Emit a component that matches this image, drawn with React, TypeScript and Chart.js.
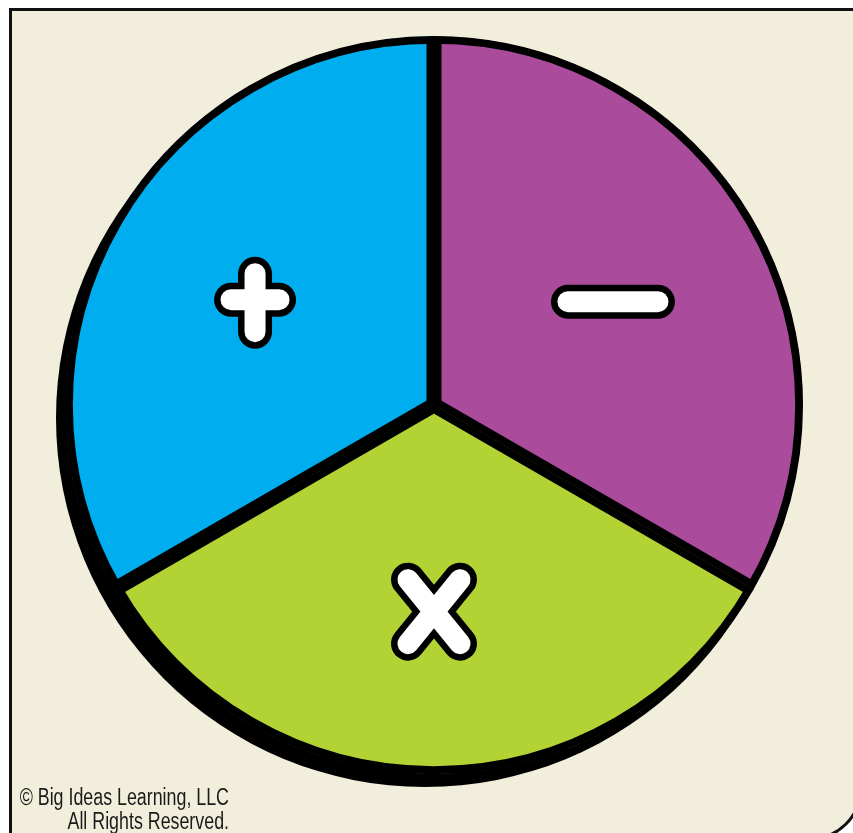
import React, { useEffect, useRef } from 'react';
import { Chart, registerables } from 'chart.js';

Chart.register(...registerables);

// Spinner sections (clockwise from the top)
const labels = ['−', '×', '+'];
const values = [1, 1, 1];
const sliceColors = ['#AB4B9B', '#B3D335', '#00ADEE'];
const footnoteLines = ['© Big Ideas Learning, LLC', 'All Rights Reserved.'];

// symbol stroke segments (relative to the symbol centre)
const shapes: Record<string, number[][]> = {
  '+': [
    [0, -28, 0, 30],
    [-24, -2, 24, -2],
  ],
  '−': [[-45, 0, 45, 0]],
  '×': [
    [-26, -32, 26, 32],
    [26, -32, -26, 32],
  ],
};

export default function App() {
  const ref = useRef<HTMLCanvasElement>(null);

  useEffect(() => {
    if (!ref.current) return;

    const shadowPlugin = {
      id: 'spinShadow',
      beforeDatasetsDraw(chart: any) {
        const arc = chart.getDatasetMeta(0).data[0];
        if (!arc) return;
        const { x, y, outerRadius } = arc.getProps(['x', 'y', 'outerRadius'], true);
        const ctx = chart.ctx;
        ctx.save();
        ctx.fillStyle = '#000';
        ctx.beginPath();
        ctx.arc(x - 9, y + 13, outerRadius, 0, Math.PI * 2);
        ctx.fill();
        ctx.restore();
      },
    };

    const symbolPlugin = {
      id: 'spinSymbols',
      afterDatasetsDraw(chart: any) {
        const meta = chart.getDatasetMeta(0);
        const ctx = chart.ctx;
        meta.data.forEach((el: any, i: number) => {
          const { x, y, startAngle, endAngle, outerRadius } = el.getProps(
            ['x', 'y', 'startAngle', 'endAngle', 'outerRadius'],
            true
          );
          const a = (startAngle + endAngle) / 2;
          const r = outerRadius * 0.56;
          const px = x + Math.cos(a) * r;
          const py = y + Math.sin(a) * r;
          const segs = shapes[labels[i]] || [];
          ctx.save();
          ctx.lineCap = 'round';
          ctx.lineJoin = 'round';
          const passes: [number, string][] = [
            [34, '#000000'],
            [21, '#ffffff'],
          ];
          for (const [w, c] of passes) {
            ctx.strokeStyle = c;
            ctx.lineWidth = w;
            ctx.beginPath();
            segs.forEach(([x1, y1, x2, y2]) => {
              ctx.moveTo(px + x1, py + y1);
              ctx.lineTo(px + x2, py + y2);
            });
            ctx.stroke();
          }
          ctx.restore();
        });
      },
    };

    const chart = new Chart(ref.current, {
      type: 'pie',
      data: {
        labels,
        datasets: [
          {
            data: values,
            backgroundColor: sliceColors,
            borderColor: '#000000',
            borderWidth: 7.5,
            borderAlign: 'inner',
          },
        ],
      },
      options: {
        responsive: false,
        animation: false,
        events: [],
        radius: 369,
        layout: { padding: { left: 15, right: 0, top: 0, bottom: 23 } },
        plugins: {
          legend: { display: false },
          tooltip: { enabled: false },
        },
      } as any,
      plugins: [shadowPlugin, symbolPlugin],
    });

    return () => chart.destroy();
  }, []);

  return (
    <div
      style={{
        position: 'fixed',
        left: 0,
        top: 0,
        width: 853,
        height: 833,
        overflow: 'hidden',
        background: '#ffffff',
      }}
    >
      <div
        style={{
          position: 'absolute',
          left: 9,
          top: 8,
          width: 853,
          height: 832,
          boxSizing: 'border-box',
          border: '3px solid #111111',
          borderRadius: '0 0 51px 0',
          background: '#F2EEDC',
        }}
      />
      <canvas
        ref={ref}
        width={853}
        height={833}
        style={{ position: 'absolute', left: 0, top: 0, width: 853, height: 833 }}
      />
      <div
        style={{
          position: 'absolute',
          left: -200,
          top: 785,
          width: 429,
          textAlign: 'right',
          fontFamily: '"Liberation Sans", Arial, sans-serif',
          fontSize: 23,
          lineHeight: '24px',
          color: '#1a1a1a',
          transform: 'scaleX(0.775)',
          transformOrigin: 'right top',
          whiteSpace: 'nowrap',
        }}
      >
        {footnoteLines.map((t) => (
          <div key={t}>{t}</div>
        ))}
      </div>
    </div>
  );
}
